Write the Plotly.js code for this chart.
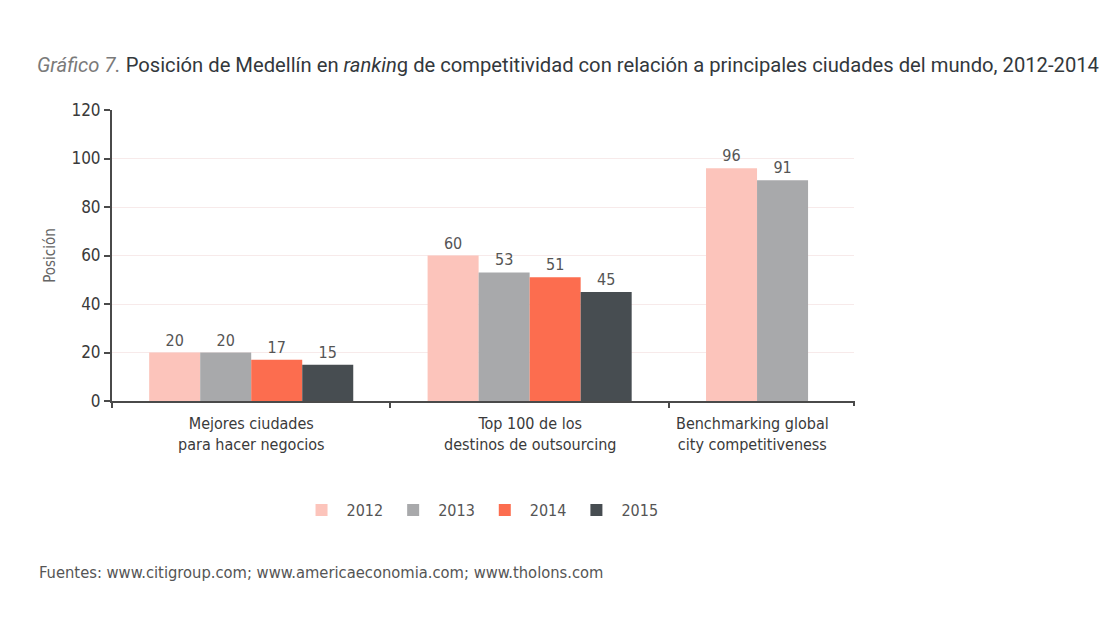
<!DOCTYPE html>
<html>
<head>
<meta charset="utf-8">
<script src="https://cdn.plot.ly/plotly-3.0.1.min.js"></script>
<style>html,body{margin:0;padding:0;background:#fff;}#chart{width:1108px;height:623px;}</style>
</head>
<body>
<div id="chart"></div>
<script>
const categories = ["Mejores ciudades para hacer negocios", "Top 100 de los destinos de outsourcing", "Benchmarking global city competitiveness"];
const categoryLabels = ["Mejores ciudades<br>para hacer negocios", "Top 100 de los<br>destinos de outsourcing", "Benchmarking global<br>city competitiveness"];
const years = ["2012", "2013", "2014", "2015"];
const v2012 = [20, 60, 96];
const v2013 = [20, 53, 91];
const v2014 = [17, 51, null];
const v2015 = [15, 45, null];
const yTicks = [0, 20, 40, 60, 80, 100, 120];

const colors = ["#fcc4bb", "#a8a9ab", "#fc6d4f", "#474d51"];
const series = [v2012, v2013, v2014, v2015];
const cond = "Liberation Sans Narrow, DejaVu Sans Condensed, Roboto, sans-serif";

const traces = series.map((vals, i) => ({
  type: "bar",
  name: years[i],
  x: categories,
  y: vals,
  marker: {color: colors[i]},
  texttemplate: "%{y}",
  textposition: "outside",
  cliponaxis: false,
  textfont: {family: cond, size: 16, color: "#555"},
  hoverinfo: "name+y"
}));

const annotations = categoryLabels.map((t, i) => ({
  xref: "x", yref: "paper",
  x: i === 2 ? 1.8 : i,
  y: -0.112, yanchor: "middle", xanchor: "center",
  text: t, showarrow: false,
  font: {family: cond, size: 16, color: "#3a3a3a"}
}));
annotations.push({
  xref: "paper", yref: "paper", x: -0.101, y: -0.591, xanchor: "left", yanchor: "middle",
  text: "Fuentes: www.citigroup.com; www.americaeconomia.com; www.tholons.com",
  showarrow: false, font: {family: cond, size: 16.4, color: "#555"}
});

const layout = {
  width: 1108, height: 623,
  paper_bgcolor: "#fff", plot_bgcolor: "#fff",
  margin: {l: 112, r: 254, t: 110, b: 222},
  title: {
    text: "<span style='color:#7a7a7a'><i>Gráfico 7.</i></span> Posición de Medellín en <i>rankin</i>g de competitividad con relación a principales ciudades del mundo, 2012-2014",
    x: 37/1108, xanchor: "left", y: 1 - 65/623, yanchor: "middle",
    font: {family: "Roboto, sans-serif", size: 20.2, color: "#33383c"}
  },
  barmode: "group",
  bargap: 0.267,
  bargroupgap: 0,
  xaxis: {
    type: "category",
    range: [-0.5, 2.165],
    showline: true, linecolor: "#4a4a4a", linewidth: 2,
    ticks: "outside", tickson: "boundaries", ticklen: 5, tickcolor: "#4a4a4a", tickwidth: 2,
    showticklabels: false, showgrid: false, zeroline: false, fixedrange: true
  },
  yaxis: {
    range: [0, 120],
    tickvals: yTicks,
    showline: true, linecolor: "#4a4a4a", linewidth: 2,
    ticks: "outside", ticklen: 6, tickcolor: "#4a4a4a", tickwidth: 2,
    gridcolor: "#f7eaea", gridwidth: 1, zeroline: false,
    tickfont: {family: cond, size: 17, color: "#3a3a3a"},
    title: {text: "Posición", font: {family: cond, size: 15, color: "#666"}, standoff: 12}
  },
  legend: {
    orientation: "h", x: 0.496, xanchor: "center", y: -0.375, yanchor: "middle",
    font: {family: cond, size: 16, color: "#555"},
    itemwidth: 40, traceorder: "normal"
  },
  shapes: [{
    type: "line", xref: "paper", yref: "paper", x0: 1, x1: 1,
    ysizemode: "pixel", yanchor: 0, y0: 0, y1: -5,
    line: {color: "#4a4a4a", width: 2}
  }],
  annotations: annotations,
  showlegend: true
};

Plotly.newPlot("chart", traces, layout, {displayModeBar: false});
</script>
</body>
</html>
